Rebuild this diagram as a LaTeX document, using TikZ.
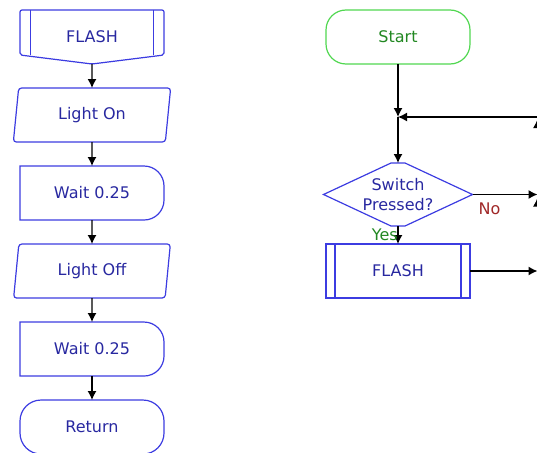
\documentclass[tikz,border=0pt]{standalone}
\usepackage{fontspec}
\setmainfont{DejaVu Sans}
\usetikzlibrary{arrows.meta,positioning,shapes.geometric,calc}
\definecolor{flowblue}{RGB}{60,60,225}
\definecolor{flowtext}{RGB}{40,40,160}
\definecolor{startgreen}{RGB}{80,215,80}
\definecolor{textgreen}{RGB}{34,136,34}
\definecolor{nored}{RGB}{160,40,40}
\tikzset{
    box/.style={
           rectangle,
           draw=flowblue, line width=1.2pt,
           text=flowtext,
           minimum width=144pt, minimum height=54pt,
           inner sep=0pt, outer sep=0pt,
           font=\fontsize{16}{20}\selectfont,
           align=center,
           },
    hidden/.style={box, draw=none},
    lightbox/.style={box, trapezium, trapezium stretches=true,
           trapezium left angle=81, trapezium right angle=99,
           minimum width=158pt, rounded corners=3pt},
    endbox/.style={box, rounded corners=21pt},
    startbox/.style={box, draw=startgreen, text=textgreen, rounded corners=20pt},
    outline/.style={draw=flowblue, line width=1.2pt},
    flow/.style={-{Latex[length=9pt,width=9pt]}, draw=black, line width=1.3pt},
    caption/.style={font=\fontsize{16}{20}\selectfont, inner sep=0pt},
}
\begin{document}
\begin{tikzpicture}[x=1pt, y=1pt, node distance=24pt]
 \useasboundingbox (0,0) rectangle (537,-452);

 % subroutine FLASH on the left
 \node[hidden] (hdr) at (92,-37) {FLASH};
 \node[lightbox, below=of hdr] (lon) {Light On};
 \node[hidden, below=of lon] (wait1) {Wait 0.25};
 \node[lightbox, below=of wait1] (loff) {Light Off};
 \node[hidden, below=of loff] (wait2) {Wait 0.25};
 \node[endbox, below=of wait2] (ret) {Return};

 % header outline with the pointed bottom
 \draw[outline, rounded corners=2pt] (hdr.south) -- ($(hdr.south west)+(0,9)$)
  -- (hdr.north west) -- (hdr.north east) -- ($(hdr.south east)+(0,9)$) -- cycle;
 \draw[outline] ([xshift=10.5pt]hdr.north west) -- ($(hdr.south west)+(10.5,9)$);
 \draw[outline] ([xshift=-10.5pt]hdr.north east) -- ($(hdr.south east)+(-10.5,9)$);

 % delay boxes, round on the right
 \foreach \n in {wait1,wait2}
  \draw[outline] (\n.north) [rounded corners=20pt] -- (\n.north east)
   -- (\n.south east) -- (\n.south) [sharp corners] -- (\n.south west)
   -- (\n.north west) -- cycle;

 \draw[flow] (hdr) -- (lon);
 \draw[flow] (lon) -- (wait1);
 \draw[flow] (wait1) -- (loff);
 \draw[flow] (loff) -- (wait2);
 \draw[flow] (wait2) -- (ret);

 % main program on the right
 \node[startbox] (start) at (398,-37) {Start};
 \coordinate[below=53pt of start] (join);
 \node[hidden, minimum width=149pt, minimum height=63pt,
  below=46pt of join] (sw) {Switch\\Pressed?};
 \node[box, below=18pt of sw] (flash) {FLASH};
 \coordinate (rim) at (537.5,0);

 % decision outline
 \draw[outline] (sw.west) -- ($(sw.north)+(-7,0)$) -- ($(sw.north)+(7,0)$)
  -- (sw.east) -- ($(sw.south)+(7,0)$) -- ($(sw.south)+(-7,0)$) -- cycle;
 \draw[outline] ([xshift=9pt]flash.north west) -- ([xshift=9pt]flash.south west);
 \draw[outline] ([xshift=-9pt]flash.north east) -- ([xshift=-9pt]flash.south east);

 \draw[flow] (start) -- (join);
 \draw[flow] (join) -- (sw);
 \draw[flow] (sw) -- (flash);
 \node[caption, text=textgreen, anchor=east] (yes) at ($(sw.south)+(0,-9)$) {Yes};
 \draw[flow] (sw.east) -- (sw.east -| rim);
 \node[caption, text=nored, anchor=west] (no) at ($(sw.east)+(6,-14)$) {No};
 \draw[flow] (flash) -- (flash.east -| rim);
 \draw[flow] (flash.east -| rim) -- ([yshift=-3pt]sw.east -| rim);
 \draw[flow] (sw.east -| rim) -- ([yshift=-2pt]join -| rim);
 \draw[flow] (join -| rim) -- (join);
\end{tikzpicture}
\end{document}
